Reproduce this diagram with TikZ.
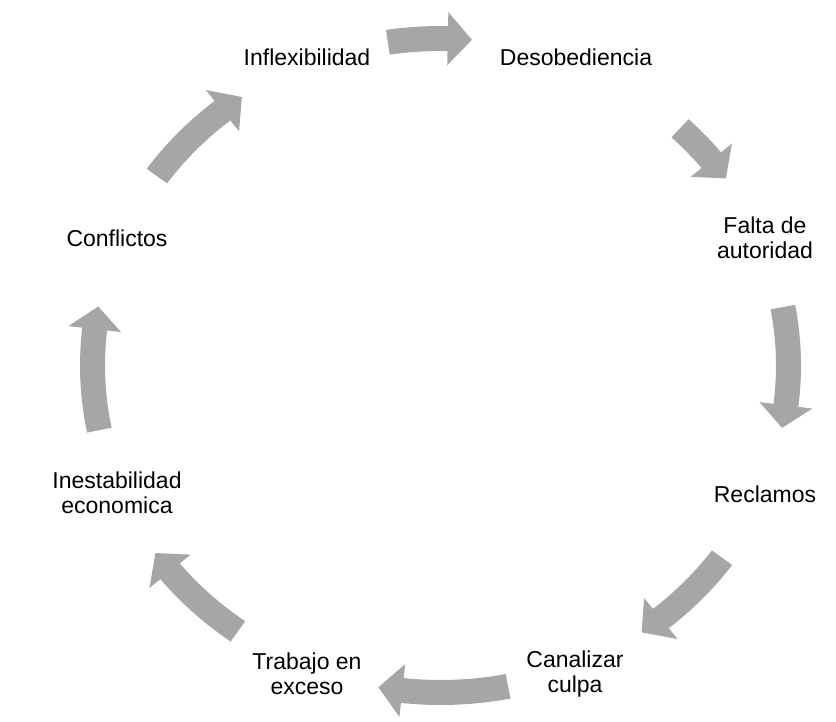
\documentclass[tikz,border=0pt]{standalone}
\usepackage{fontspec}
\setmainfont{Liberation Sans}
\definecolor{arrowgray}{HTML}{A6A6A6}
\newcommand\cycarrow[2]{% #1 tail angle, #2 tip angle (clockwise)
  \pgfmathsetmacro\hb{#2+4}%
  \fill[arrowgray] (#1:360.5pt and 339.5pt)
    arc[start angle=#1,end angle=\hb,x radius=360.5pt,y radius=339.5pt]
    -- (\hb:374.5pt and 353.5pt) -- (#2:348pt and 327pt)
    -- (\hb:321.5pt and 300.5pt) -- (\hb:335.5pt and 314.5pt)
    arc[start angle=\hb,end angle=#1,x radius=335.5pt,y radius=314.5pt]
    -- cycle;}
\begin{document}
\begin{tikzpicture}[
  lbl/.style={font=\fontsize{23pt}{25pt}\selectfont, align=center, inner sep=0pt, text=black}]
\useasboundingbox (-440.5pt,-355.5pt) rectangle (395.5pt,365.5pt);
\node[lbl] (inflex) at (-133.5pt,308.5pt) {Inflexibilidad};
\node[lbl] (desob) at (135.5pt,308.5pt) {Desobediencia};
\node[lbl] (falta) at (324.5pt,128pt) {Falta de\\autoridad};
\node[lbl] (recl) at (324.5pt,-128.5pt) {Reclamos};
\node[lbl] (canal) at (134.5pt,-308.5pt) {Canalizar\\culpa};
\node[lbl] (trab) at (-133.5pt,-308.5pt) {Trabajo en\\exceso};
\node[lbl] (inest) at (-323.5pt,-127.5pt) {Inestabilidad\\economica};
\node[lbl] (confl) at (-323.5pt,127.5pt) {Conflictos};
\cycarrow{98.7}{84.8}
\cycarrow{46.5}{34.9}
\cycarrow{10.3}{-11}
\cycarrow{-36}{-54.7}
\cycarrow{-78.8}{-100.3}
\cycarrow{-125.6}{-145}
\cycarrow{191.4}{169.6}
\cycarrow{144.6}{124.8}
\end{tikzpicture}
\end{document}
